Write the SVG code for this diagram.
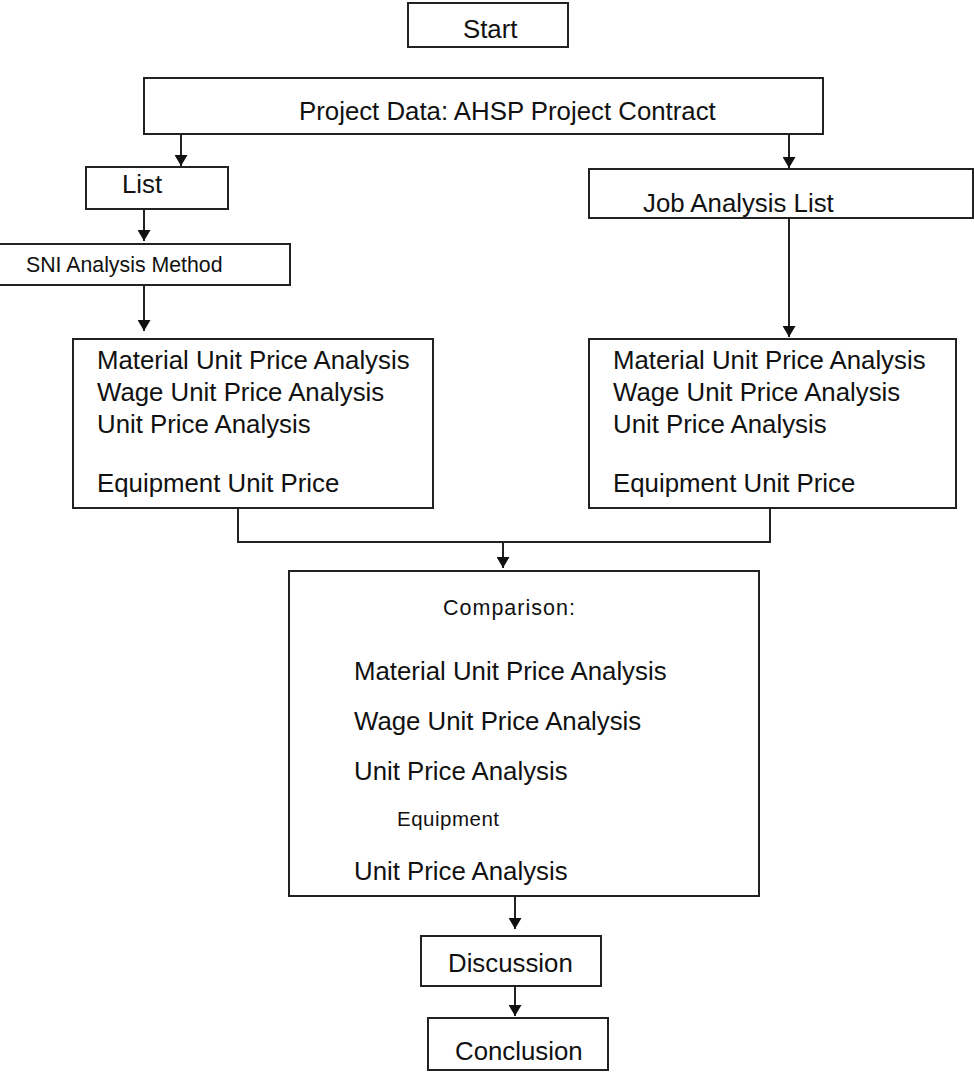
<svg xmlns="http://www.w3.org/2000/svg" width="974" height="1072" viewBox="0 0 974 1072">
<style>
.box{fill:#fff;stroke:#222;stroke-width:2}
.t{font-family:"Liberation Sans",Arial,sans-serif;font-size:25.8px;fill:#111}
.s{font-family:"Liberation Sans",Arial,sans-serif;fill:#111}
.c{fill:none;stroke:#222;stroke-width:2}
</style>
<defs>
<marker id="ah" viewBox="0 0 10 10" refX="10" refY="5" markerWidth="11" markerHeight="13" markerUnits="userSpaceOnUse" orient="auto" preserveAspectRatio="none">
<path d="M0,0 L10,5 L0,10 z" fill="#111"/>
</marker>
</defs>
<rect width="974" height="1072" fill="#fff"/>
<g id="connectors">
<line class="c" x1="181" y1="135" x2="181" y2="166" marker-end="url(#ah)"/>
<line class="c" x1="789" y1="135" x2="789" y2="168" marker-end="url(#ah)"/>
<line class="c" x1="144" y1="209" x2="144" y2="241" marker-end="url(#ah)"/>
<line class="c" x1="144" y1="285" x2="144" y2="331" marker-end="url(#ah)"/>
<line class="c" x1="789" y1="218" x2="789" y2="337" marker-end="url(#ah)"/>
<polyline class="c" points="238,508 238,542 770,542 770,508"/>
<line class="c" x1="503" y1="542" x2="503" y2="568" marker-end="url(#ah)"/>
<line class="c" x1="515" y1="896" x2="515" y2="929" marker-end="url(#ah)"/>
<line class="c" x1="515" y1="986" x2="515" y2="1016" marker-end="url(#ah)"/>
</g>
<g id="start">
<rect class="box" x="408" y="3" width="160" height="44"/>
<text class="t" x="463" y="38">Start</text>
</g>
<g id="project-data">
<rect class="box" x="144" y="78" width="679" height="56"/>
<text class="t" x="299" y="120">Project Data: AHSP Project Contract</text>
</g>
<g id="list">
<rect class="box" x="86" y="167" width="142" height="42"/>
<text class="t" x="122" y="193">List</text>
</g>
<g id="job-analysis-list">
<rect class="box" x="589" y="169" width="384" height="49"/>
<text class="t" x="643" y="212">Job Analysis List</text>
</g>
<g id="sni-method">
<rect class="box" x="-3" y="244" width="293" height="41"/>
<text class="s" x="26" y="272" font-size="21.3">SNI Analysis Method</text>
</g>
<g id="left-analysis">
<rect class="box" x="73" y="339" width="360" height="169"/>
<text class="t" x="97" y="369">Material Unit Price Analysis</text>
<text class="t" x="97" y="401">Wage Unit Price Analysis</text>
<text class="t" x="97" y="433">Unit Price Analysis</text>
<text class="t" x="97" y="492">Equipment Unit Price</text>
</g>
<g id="right-analysis">
<rect class="box" x="589" y="339" width="367" height="169"/>
<text class="t" x="613" y="369">Material Unit Price Analysis</text>
<text class="t" x="613" y="401">Wage Unit Price Analysis</text>
<text class="t" x="613" y="433">Unit Price Analysis</text>
<text class="t" x="613" y="492">Equipment Unit Price</text>
</g>
<g id="comparison">
<rect class="box" x="289" y="571" width="470" height="325"/>
<text class="s" x="443" y="615" font-size="21.5" letter-spacing="1">Comparison:</text>
<text class="t" x="354" y="680">Material Unit Price Analysis</text>
<text class="t" x="354" y="730">Wage Unit Price Analysis</text>
<text class="t" x="354" y="780">Unit Price Analysis</text>
<text class="s" x="397" y="826" font-size="20.5" letter-spacing="0.5">Equipment</text>
<text class="t" x="354" y="880">Unit Price Analysis</text>
</g>
<g id="discussion">
<rect class="box" x="421" y="936" width="180" height="50"/>
<text class="t" x="448" y="972">Discussion</text>
</g>
<g id="conclusion">
<rect class="box" x="428" y="1018" width="180" height="52"/>
<text class="t" x="455" y="1060">Conclusion</text>
</g>
</svg>
